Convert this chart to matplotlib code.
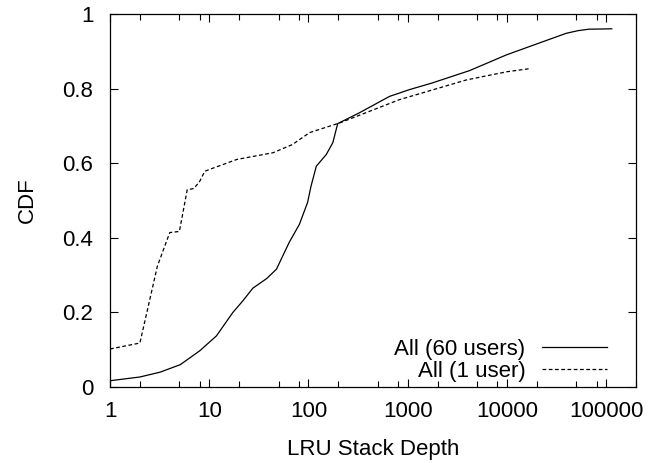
import matplotlib
matplotlib.use("Agg")
import matplotlib.pyplot as plt
import matplotlib.ticker as ticker

# LRU stack depth CDF, 60 users aggregated
depth_60 = [1, 2, 3.2, 5.1, 8, 11.8, 17.3, 21.8, 27.5, 38, 47.6, 64, 81, 98, 106, 120, 151, 176, 197,
            326, 657, 1040, 1770, 4200, 9850, 21200, 39600, 52000, 67000, 114000]
cdf_60 = [0.017, 0.027, 0.040, 0.060, 0.097, 0.137, 0.200, 0.231, 0.265, 0.291, 0.316, 0.388, 0.436, 0.495, 0.538, 0.592, 0.623, 0.655, 0.706,
          0.735, 0.779, 0.797, 0.815, 0.848, 0.890, 0.922, 0.948, 0.955, 0.959, 0.960]

# single user
depth_1 = [1, 2, 3, 4, 5, 6, 7, 8, 9, 10, 19, 44, 69, 81, 103, 207, 822, 3900, 10000, 16700]
cdf_1 = [0.102, 0.118, 0.324, 0.414, 0.417, 0.529, 0.532, 0.551, 0.578, 0.583, 0.610, 0.628, 0.650, 0.663, 0.682, 0.708, 0.770, 0.823, 0.845, 0.853]

labels = ["All (60 users)", "All (1 user)"]

plt.rcParams['font.family'] = ['Liberation Sans', 'DejaVu Sans']
fs = 16

fig = plt.figure(figsize=(6.53, 4.63), dpi=100)
ax = fig.add_axes([0.1685, 0.164, 0.8055, 0.806])

ax.plot(depth_60, cdf_60, color='black', lw=0.9, label=labels[0])
ax.plot(depth_1, cdf_1, color='black', lw=0.9, dashes=(3, 2), label=labels[1])

ax.set_xscale('log')
ax.set_xlim(1, 200000)
ax.set_ylim(0, 1)
ax.xaxis.set_major_locator(ticker.FixedLocator([1, 10, 100, 1000, 10000, 100000]))
ax.xaxis.set_major_formatter(ticker.FixedFormatter(["1", "10", "100", "1000", "10000", "100000"]))
ax.xaxis.set_minor_locator(ticker.LogLocator(base=10, subs=(2, 5, 8)))
ax.xaxis.set_minor_formatter(ticker.NullFormatter())
ax.set_yticks([0, 0.2, 0.4, 0.6, 0.8, 1])
ax.set_yticklabels(["0", "0.2", "0.4", "0.6", "0.8", "1"])

ax.tick_params(which='both', direction='in', top=True, right=True, labelsize=fs, width=0.8)
ax.tick_params(axis='x', pad=10)
ax.tick_params(axis='y', pad=12)
ax.tick_params(which='major', length=6)
ax.tick_params(which='minor', length=4)
for s in ax.spines.values():
    s.set_linewidth(0.9)

ax.set_xlabel("LRU Stack Depth", fontsize=fs, labelpad=12)
ax.set_ylabel("CDF", fontsize=fs, labelpad=18)

ax.legend(loc='lower right', frameon=False, markerfirst=False, fontsize=fs,
          handlelength=2.9, handletextpad=0.75, labelspacing=0.05,
          borderaxespad=0.0, bbox_to_anchor=(0.961, -0.01))

fig.savefig("out.png", dpi=100)
